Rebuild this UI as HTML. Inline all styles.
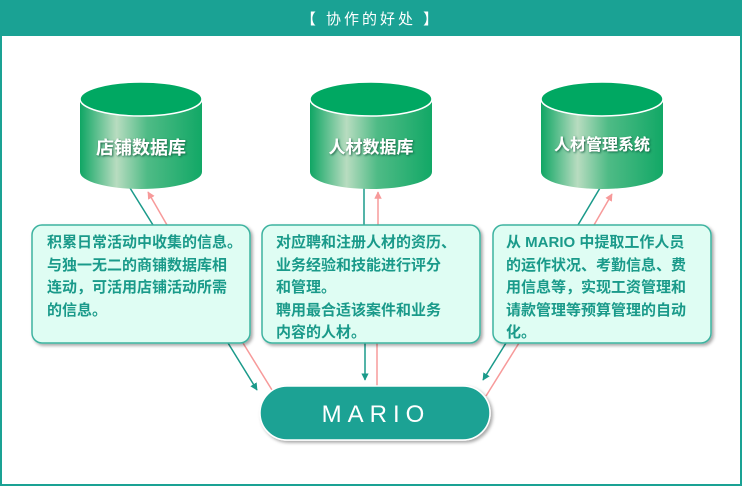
<!DOCTYPE html>
<html><head><meta charset="utf-8"><style>
body{margin:0;width:742px;height:486px;overflow:hidden;background:#fff;font-family:"Liberation Sans","Noto Sans CJK SC",sans-serif}
.t{position:absolute;color:#1a9a8a;font-size:15px;line-height:22.5px;font-weight:bold;letter-spacing:0px;white-space:nowrap}
</style></head><body>
<svg width="742" height="486" style="position:absolute;left:0;top:0">
<defs>
<linearGradient id="cy" x1="0" x2="1">
<stop offset="0" stop-color="#0fa664"/><stop offset="0.3" stop-color="#b8dcc0"/><stop offset="0.55" stop-color="#4fbb86"/><stop offset="1" stop-color="#12a866"/>
</linearGradient>
<filter id="sh"><feDropShadow dx="2" dy="2" stdDeviation="1.5" flood-color="#000" flood-opacity="0.35"/></filter>
<filter id="ts"><feDropShadow dx="1" dy="1" stdDeviation="1" flood-color="#0a5a3a" flood-opacity="0.9"/></filter>
<marker id="at" viewBox="0 0 10 10" refX="9" refY="5" markerWidth="5" markerHeight="5" orient="auto"><path d="M0 0L10 5L0 10z" fill="#1a9a8a"/></marker>
<marker id="ap" viewBox="0 0 10 10" refX="9" refY="5" markerWidth="5" markerHeight="5" orient="auto"><path d="M0 0L10 5L0 10z" fill="#f79a9a"/></marker>
</defs>
<rect x="1" y="1" width="740" height="484" fill="#fff" stroke="#1aa294" stroke-width="2"/>
<rect x="0" y="0" width="742" height="36" fill="#1aa294"/>
<text x="371" y="24" fill="#fff" font-size="15" text-anchor="middle" letter-spacing="3" font-family="Liberation Sans,Noto Sans CJK SC,sans-serif">【 协作的好处 】</text>
<g stroke-width="1.5" fill="none">
<line x1="130" y1="188" x2="153" y2="225" stroke="#1a9a8a"/>
<line x1="167" y1="225" x2="148" y2="192" stroke="#f79a9a" marker-end="url(#ap)"/>
<line x1="364" y1="188" x2="364" y2="225" stroke="#1a9a8a"/>
<line x1="378" y1="225" x2="378" y2="192" stroke="#f79a9a" marker-end="url(#ap)"/>
<line x1="600" y1="188" x2="578" y2="225" stroke="#1a9a8a"/>
<line x1="594" y1="225" x2="612" y2="194" stroke="#f79a9a" marker-end="url(#ap)"/>
<line x1="228" y1="343" x2="257" y2="390" stroke="#1a9a8a" marker-end="url(#at)"/>
<line x1="243" y1="343" x2="272" y2="390" stroke="#f79a9a"/>
<line x1="365" y1="343" x2="365" y2="380" stroke="#1a9a8a" marker-end="url(#at)"/>
<line x1="377" y1="343" x2="377" y2="386" stroke="#f79a9a"/>
<line x1="506" y1="343" x2="483" y2="380" stroke="#1a9a8a" marker-end="url(#at)"/>
<line x1="519" y1="343" x2="486" y2="396" stroke="#f79a9a"/>
</g>
<g font-size="17" font-weight="bold" fill="#fff" text-anchor="middle" font-family="Liberation Sans,Noto Sans CJK SC,sans-serif">
<g><path d="M80 100 V172 A61 17 0 0 0 202 172 V100" fill="url(#cy)"/><ellipse cx="141" cy="99" rx="61" ry="17" fill="#00a862" stroke="#fff" stroke-width="1.5"/><text x="141" y="154" filter="url(#ts)" font-size="18">店铺数据库</text></g>
<g><path d="M310 100 V172 A61 17 0 0 0 432 172 V100" fill="url(#cy)"/><ellipse cx="371" cy="99" rx="61" ry="17" fill="#00a862" stroke="#fff" stroke-width="1.5"/><text x="371" y="153" filter="url(#ts)">人材数据库</text></g>
<g><path d="M541 100 V172 A61 17 0 0 0 663 172 V100" fill="url(#cy)"/><ellipse cx="602" cy="99" rx="61" ry="17" fill="#00a862" stroke="#fff" stroke-width="1.5"/><text x="602" y="150" filter="url(#ts)" font-size="16">人材管理系统</text></g>
</g>
<g fill="#dffdf3" stroke="#3db3a0" stroke-width="1.5" filter="url(#sh)">
<rect x="32" y="225" width="218" height="118" rx="10"/>
<rect x="262" y="225" width="218" height="118" rx="10"/>
<rect x="493" y="225" width="218" height="118" rx="10"/>
</g>
<rect x="260" y="386" width="230" height="54" rx="27" fill="#1aa294" stroke="#fff" stroke-width="1.5" filter="url(#sh)"/>
<text x="376" y="422" fill="#fff" font-size="24" text-anchor="middle" letter-spacing="6" font-family="Liberation Sans,sans-serif">MARIO</text>
</svg>
<div class="t" style="left:47px;top:232px">积累日常活动中收集的信息。<br>与独一无二的商铺数据库相<br>连动，可活用店铺活动所需<br>的信息。</div>
<div class="t" style="left:276px;top:232px">对应聘和注册人材的资历、<br>业务经验和技能进行评分<br>和管理。<br>聘用最合适该案件和业务<br>内容的人材。</div>
<div class="t" style="left:506px;top:232px">从 MARIO 中提取工作人员<br>的运作状况、考勤信息、费<br>用信息等，实现工资管理和<br>请款管理等预算管理的自动<br>化。</div>
</body></html>
